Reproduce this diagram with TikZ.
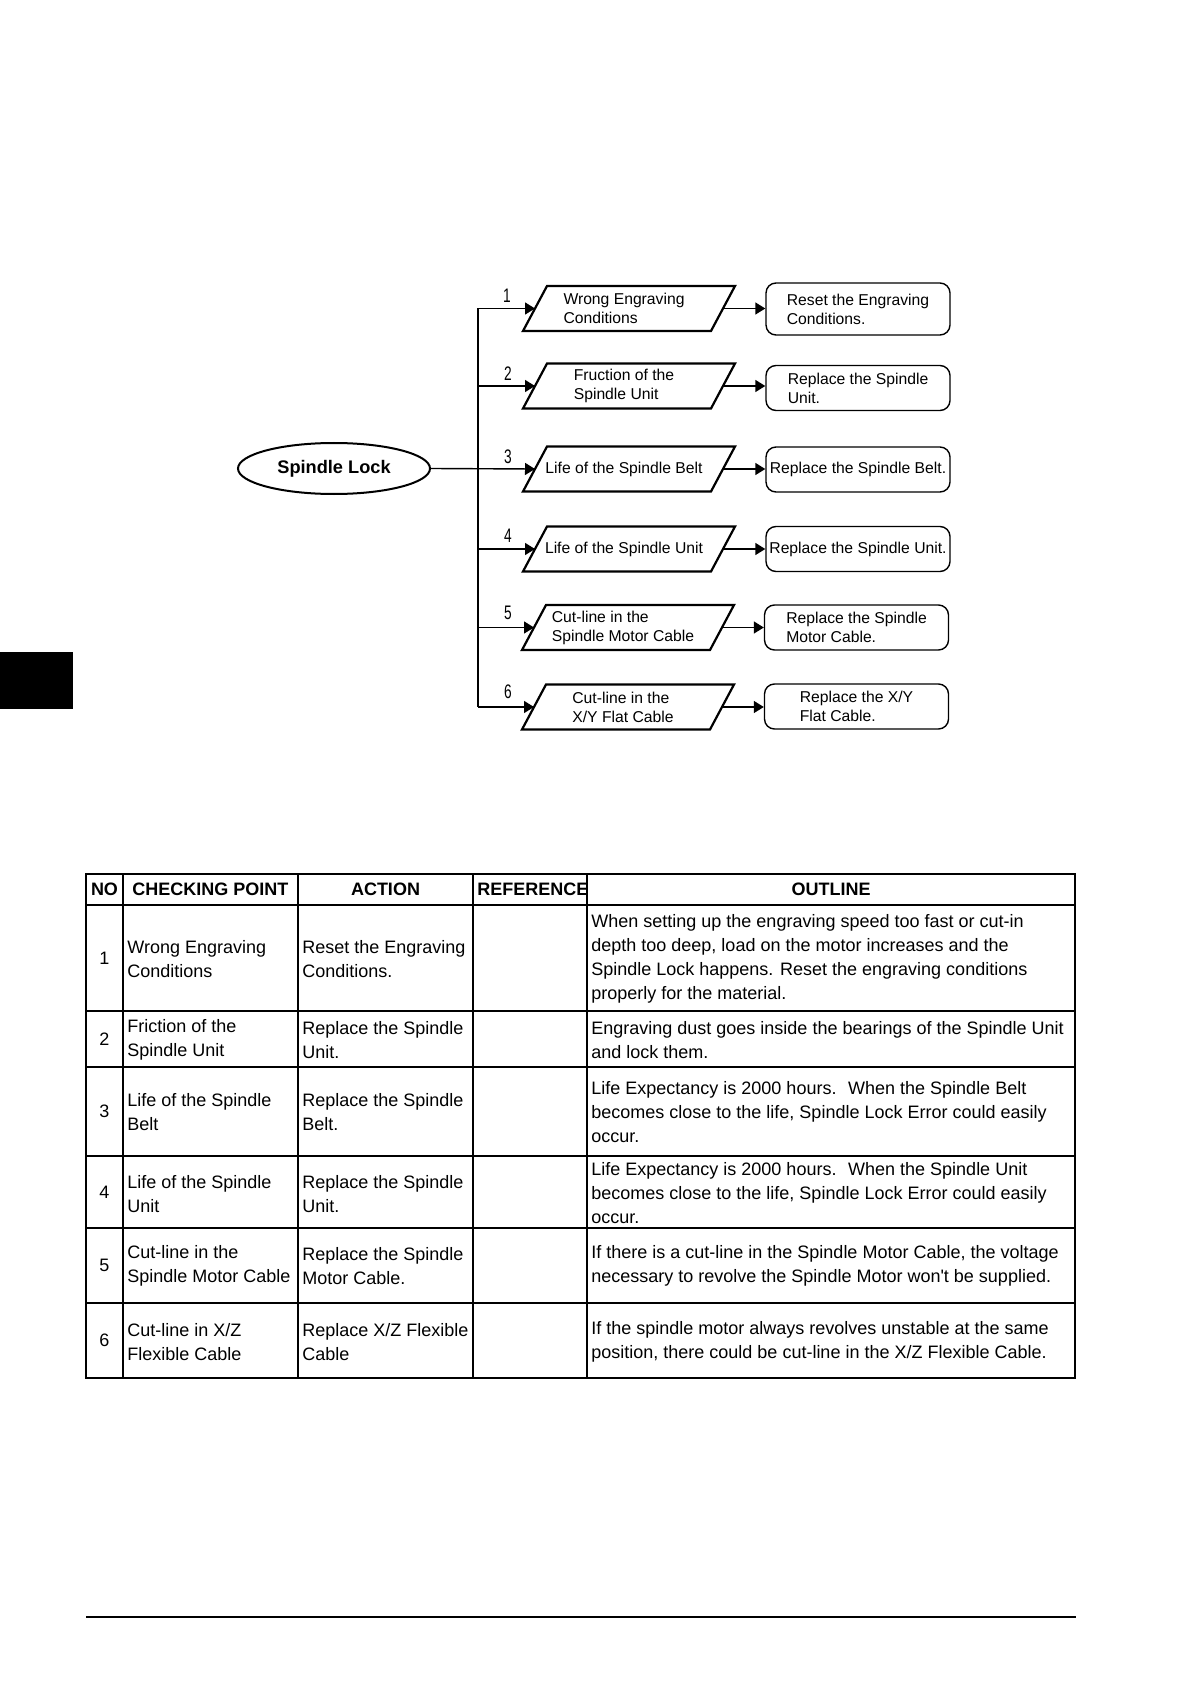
\documentclass[tikz,border=0pt]{standalone}
\usepackage{fontspec}
\usepackage{graphicx}
\setmainfont{Liberation Sans}
\newfontfamily\nolig{Liberation Sans}
\usetikzlibrary{arrows.meta,shapes.geometric}
\newcommand\paral[4]{%
  \node[ptext] (#1) at (#2-5,#3) {#4};
  \draw[pline] (#2-82,#3-22.5) -- (#2+106,#3-22.5) -- (#2+82,#3+22.5) -- (#2-106,#3+22.5) -- cycle;
  \coordinate (#1w) at (#2-94,#3);
  \coordinate (#1e) at (#2+94,#3);
}
\begin{document}
\begin{tikzpicture}[x=0.5pt,y=-0.5pt,
  flow/.style={font=\fontsize{7.85}{9.5}\selectfont},
  ptext/.style={flow, align=left, inner sep=0pt},
  pline/.style={line width=1.1pt, line join=miter},
  rbox/.style={draw, line width=0.7pt, rounded corners=5pt, minimum width=92pt, minimum height=22.5pt, align=left, flow, inner sep=0pt},
  conn/.style={line width=0.7pt},
  arr/.style={conn, -{Triangle[length=5pt,width=6pt]}},
  num/.style={font=\fontsize{9.8}{10}\selectfont, inner sep=0pt},
  tline/.style={line width=1.3pt},
  tt/.style={font=\fontsize{9}{12}\selectfont, align=left, inner sep=0pt, anchor=west},
  tn/.style={font=\fontsize{9}{12}\selectfont, inner sep=0pt},
  th/.style={font=\bfseries\fontsize{9}{12}\selectfont, inner sep=0pt},
]
\useasboundingbox (0,0) rectangle (1190,1684);
% side tab
\fill (0,652) rectangle (73,709);
% bottom rule
\draw[line width=1.1pt] (86,1617) -- (1076,1617);

% ---------------- flowchart ----------------
\node[draw, ellipse, line width=1pt, minimum width=96pt, minimum height=25.5pt, inner sep=0pt,
      font=\bfseries\fontsize{9.1}{11}\selectfont] (sl) at (334,468.5) {Spindle Lock};

\paral{p1}{629}{308.5}{Wrong Engraving\\Conditions}
\paral{p2}{629}{386}{Fruction of the\\Spindle Unit}
\paral{p3}{629}{469}{Life of the Spindle Belt}
\paral{p4}{629}{549}{Life of the Spindle Unit}
\paral{p5}{628}{627.5}{Cut-line in the\\Spindle Motor Cable}
\paral{p6}{628}{707}{Cut-line in the\\X/Y Flat Cable}

\node[rbox, minimum height=26pt] (r1) at (858,309) {Reset the Engraving\\Conditions.};
\node[rbox] (r2) at (858,388) {Replace the Spindle\\Unit.};
\node[rbox] (r3) at (858,469.5) {Replace the Spindle Belt.};
\node[rbox] (r4) at (858,549) {Replace the Spindle Unit.};
\node[rbox] (r5) at (856.5,627.5) {Replace the Spindle\\Motor Cable.};
\node[rbox] (r6) at (856.5,706.5) {Replace the X/Y\\Flat Cable.};

\coordinate (t1) at (478,308.5);
\coordinate (t2) at (478,386);
\coordinate (t3) at (478,469);
\coordinate (t4) at (478,549);
\coordinate (t5) at (478,627.5);
\coordinate (t6) at (478,707);

\draw[conn] (t1) -- (t6);
\draw[arr] (sl.east) -- (p3w);
\foreach \i in {1,2,4,5,6} { \draw[arr] (t\i) -- (p\i w); }
\foreach \i in {1,...,6} { \draw[arr] (p\i e) -- (p\i e -| r\i.west); }

\node[num] (k1) at (507,296) {\scalebox{0.7}[1]{1}};
\node[num] (k2) at (508,374) {\scalebox{0.7}[1]{2}};
\node[num] (k3) at (508,457) {\scalebox{0.7}[1]{3}};
\node[num] (k4) at (508,536) {\scalebox{0.7}[1]{4}};
\node[num] (k5) at (508,613) {\scalebox{0.7}[1]{5}};
\node[num] (k6) at (508,692) {\scalebox{0.7}[1]{6}};

% ---------------- table ----------------
\draw[tline] (86,874) rectangle (1075,1378);
\foreach \yy in {905,1011,1067,1156,1228,1303} { \draw[tline] (86,\yy) -- (1075,\yy); }
\foreach \xx in {123,298,473,587} { \draw[tline] (\xx,874) -- (\xx,1378); }

\node[th] (h1) at (104.5,889.5) {NO};
\node[th] (h2) at (210.5,889.5) {CHECKING POINT};
\node[th] (h3) at (385.5,889.5) {ACTION};
\node[th, anchor=west] (h4) at (477,889.5) {REFERENCE};
\node[th] (h5) at (831,889.5) {OUTLINE};

\node[tn] (n1) at (104.5,958) {1};
\node[tn] (n2) at (104.5,1039) {2};
\node[tn] (n3) at (104.5,1111.5) {3};
\node[tn] (n4) at (104.5,1192) {4};
\node[tn] (n5) at (104.5,1265.5) {5};
\node[tn] (n6) at (104.5,1340.5) {6};

\node[tt] (c1) at (127,959.5) {Wrong Engraving\\Conditions};
\node[tt] (c2) at (127,1040) {Friction of the\\Spindle Unit};
\node[tt] (c3) at (127,1112.5) {Life of the Spindle\\Belt};
\node[tt] (c4) at (127,1194) {Life of the Spindle\\Unit};
\node[tt] (c5) at (127,1266) {Cut-line in the\\Spindle Motor Cable};
\node[tt] (c6) at (127,1342) {Cut-line in X/Z\\Flexible Cable};

\node[tt] (a1) at (302,959.5) {Reset the Engraving\\Conditions.};
\node[tt] (a2) at (302,1040) {Replace the Spindle\\Unit.};
\node[tt] (a3) at (302,1112.5) {Replace the Spindle\\Belt.};
\node[tt] (a4) at (302,1194) {Replace the Spindle\\Unit.};
\node[tt] (a5) at (302,1266) {Replace the Spindle\\Motor Cable.};
\node[tt] (a6) at (302,1342) {Replace X/Z Flexible\\Cable};

\node[tt] (o1) at (591,959) {When setting up the engraving speed too fast or cut-in\\depth too deep, load on the motor increases and the\\Spindle Lock happens. Reset the engraving conditions\\properly for the material.};
\node[tt] (o2) at (591,1040) {Engraving dust goes inside the bearings of the Spindle Unit\\and lock them.};
\node[tt] (o3) at (591,1112) {Life Expectancy is 2000 hours.~ When the Spindle Belt\\becomes close to the life, Spindle Lock Error could easily\\occur.};
\node[tt] (o4) at (591,1193) {Life Expectancy is 2000 hours.~ When the Spindle Unit\\becomes close to the life, Spindle Lock Error could easily\\occur.};
\node[tt] (o5) at (591,1266) {If there is a cut-line in the Spindle Motor Cable, the voltage\\necessary to revolve the Spindle Motor won{\nolig'}t be supplied.};
\node[tt] (o6) at (591,1342) {If the spindle motor always revolves unstable at the same\\position, there could be cut-line in the X/Z Flexible Cable.};
\end{tikzpicture}
\end{document}
